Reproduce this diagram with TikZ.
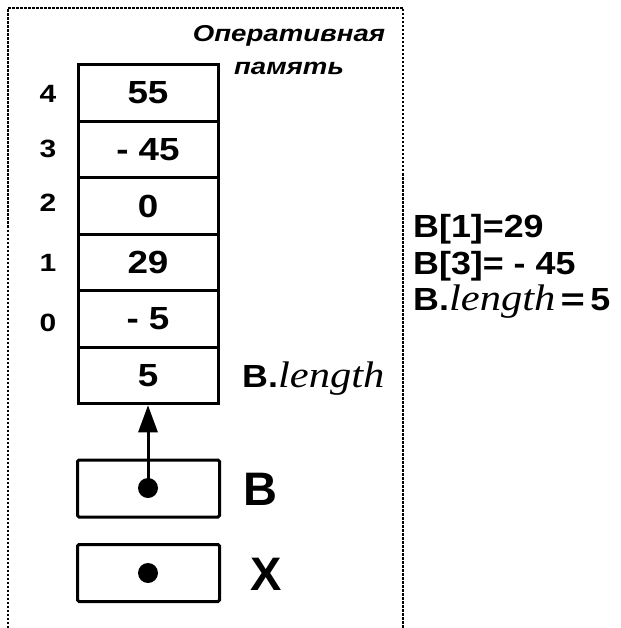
\documentclass[tikz,border=0pt]{standalone}
\usepackage{fontspec}
\usepackage{graphicx}
\setmainfont{Liberation Sans}
\newfontfamily\tms{Liberation Serif}
\usetikzlibrary{arrows.meta}
% horizontally widened lettering
\newcommand\widen[2][1.15]{\scalebox{#1}[1]{#2}}
\newcommand\lengthword{{\fontsize{37}{37}\selectfont\tms\mdseries\itshape\widen[1.15]{length}}}
\begin{document}
\begin{tikzpicture}[x=1pt,y=-1pt,
  cell/.style={draw,line width=3pt,minimum width=140pt,minimum height=56.5pt,
    inner sep=0pt,font=\fontsize{32}{32}\selectfont\bfseries},
  idx/.style={font=\fontsize{25}{25}\selectfont\bfseries},
  ref/.style={draw,line width=3pt,rounded corners=1.5pt,minimum width=142pt,
    minimum height=57pt,inner sep=0pt},
  dot/.style={circle,fill,minimum size=20pt,inner sep=0pt},
  big/.style={font=\fontsize{47}{47}\selectfont\bfseries},
  note/.style={anchor=base west,inner sep=0pt,font=\fontsize{32}{32}\selectfont\bfseries},
  toplab/.style={anchor=base,inner sep=0pt,font=\fontsize{23}{23}\selectfont\bfseries\itshape},
  border/.style={line width=2pt,dash pattern=on 2.5pt off 1.5pt}]
\useasboundingbox (0,0) rectangle (620,628);

% memory area (open at the bottom)
\draw[border] (8,640) -- (8,8) -- (403,8) -- (403,640);
\node[toplab] (ram1) at (289,42) {\widen[1.2]{Оперативная}};
\node[toplab] (ram2) at (289,75) {\widen[1.2]{память}};

% array cells
\node[cell] (e4) at (148,93) {\widen{55}};
\node[cell] (e3) at (148,149.5) {\widen{- 45}};
\node[cell] (e2) at (148,206) {\widen{0}};
\node[cell] (e1) at (148,262.5) {\widen{29}};
\node[cell] (e0) at (148,319) {\widen{- 5}};
\node[cell] (len) at (148,375.5) {\widen{5}};

% indices
\node[idx] (i4) at (48,94) {\widen[1.2]{4}};
\node[idx] (i3) at (48,149) {\widen[1.2]{3}};
\node[idx] (i2) at (48,203) {\widen[1.2]{2}};
\node[idx] (i1) at (48,263) {\widen[1.2]{1}};
\node[idx] (i0) at (48,323) {\widen[1.2]{0}};

\node[note] (lenlab) at (242,387) {\widen[1.12]{B.}\lengthword};

% reference variables
\node[ref] (bbox) at (148.5,488.5) {};
\node[dot] (bdot) at (148,488) {};
\node[big] (blab) at (260,489) {B};
\node[ref] (xbox) at (148.5,573) {};
\node[dot] (xdot) at (148,573) {};
\node[big] (xlab) at (266,574) {X};

\draw[line width=3pt,-{Triangle[length=27pt,width=19pt]}] (bdot.center) -- (len.south);

% access examples
\node[note] (n1) at (413,237) {\widen[1.12]{B[1]=29}};
\node[note] (n2) at (413,274) {\widen[1.12]{B[3]= - 45}};
\node[note] (n3) at (413,310) {\widen[1.12]{B.}\lengthword\,\widen[1.3]{=}\,\widen[1.12]{5}};
\end{tikzpicture}
\end{document}
